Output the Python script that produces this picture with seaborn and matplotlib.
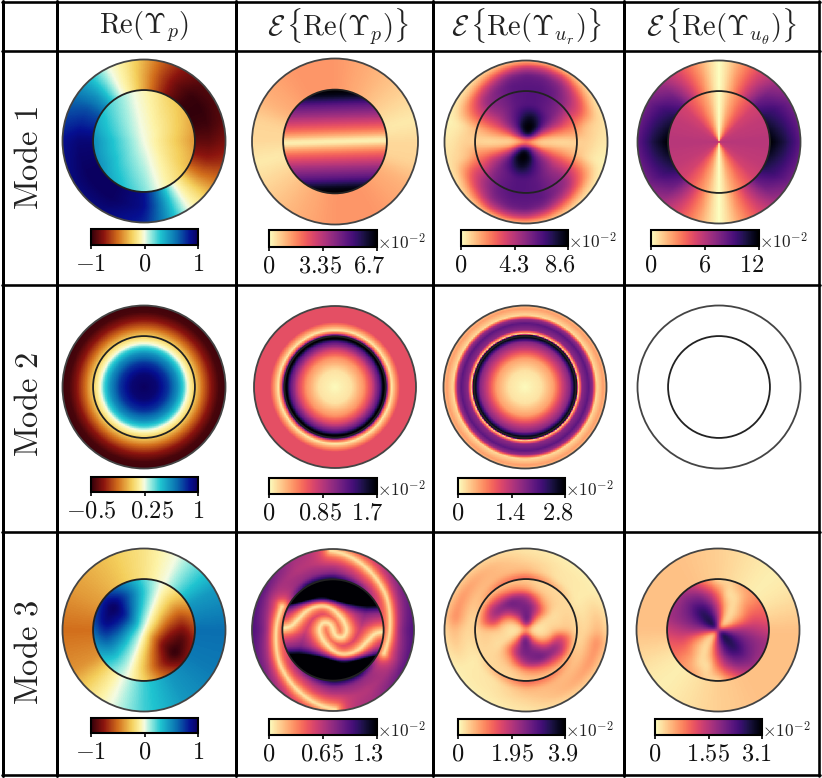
import numpy as np
import matplotlib
matplotlib.use("Agg")
import matplotlib.pyplot as plt
from matplotlib.colors import LinearSegmentedColormap
from matplotlib.lines import Line2D
from matplotlib.patches import Circle
from matplotlib.transforms import ScaledTranslation
import seaborn as sns

sns.set_theme(style="white", rc={"mathtext.fontset": "cm", "axes.grid": False})

W, H = 822, 778
RI = 0.625
N = 260
EXT = 1.03

# ---------- text ----------
headers = [r"$\mathrm{Re}(\Upsilon_p)$",
           r"$\mathcal{E}\,\{\mathrm{Re}(\Upsilon_p)\}$",
           r"$\mathcal{E}\,\{\mathrm{Re}(\Upsilon_{u_r})\}$",
           r"$\mathcal{E}\,\{\mathrm{Re}(\Upsilon_{u_\theta})\}$"]
modes = ["Mode 1", "Mode 2", "Mode 3"]

# ---------- panel A: Mode 1, Re(p) ----------
a_in_r = [0.0, 0.625]
a_in_weight = [0.0, 1.0]
a_in_ang = [0, 30, 60, 90, 102, 120, 150, 180, 210, 240, 270, 287, 300, 330]
a_in_val = [-0.40, -0.32, -0.22, -0.06, 0.0, 0.14, 0.34, 0.50, 0.48, 0.34, 0.16, 0.0, -0.10, -0.30]
a_out_r = [0.625, 0.8, 1.0]
a_out_weight = [1.0, 1.0, 0.92]
a_out_ang = [0, 15, 30, 45, 60, 75, 90, 105, 116, 135, 150, 180, 210, 240, 270, 285, 303, 315, 330, 345]
a_out_val = [-0.88, -0.97, -1.0, -0.98, -0.85, -0.62, -0.35, -0.12, 0.0, 0.45, 0.68, 0.94, 1.0,
             1.0, 0.88, 0.55, 0.0, -0.18, -0.5, -0.75]

# ---------- panel B: Mode 1, E(p) ----------
b_in_y = [0.0, 0.03, 0.07, 0.14, 0.22, 0.32, 0.44, 0.56, 0.62]
b_in_val = [0.02, 0.06, 0.16, 0.30, 0.42, 0.56, 0.72, 0.96, 1.0]
b_out_ang = [0, 15, 30, 60, 90, 120, 150, 165]
b_out_val = [0.08, 0.04, 0.08, 0.16, 0.22, 0.22, 0.16, 0.09]

# ---------- panel C: Mode 1, E(u_r) ----------
c_r = [0.0, 0.1, 0.2, 0.3, 0.45, 0.62, 0.72, 0.82, 0.92, 1.0]
c_ang = [0, 15, 30, 45, 60, 75, 90, 105, 120, 135, 150, 165]
c_tab = [[0.05, 0.05, 0.05, 0.05, 0.05, 0.08, 0.10, 0.08, 0.05, 0.05],
         [0.08, 0.20, 0.20, 0.22, 0.25, 0.25, 0.15, 0.10, 0.08, 0.05],
         [0.10, 0.50, 0.45, 0.50, 0.50, 0.40, 0.40, 0.30, 0.12, 0.05],
         [0.12, 0.72, 0.78, 0.72, 0.65, 0.60, 0.55, 0.45, 0.24, 0.07],
         [0.15, 0.90, 1.00, 0.85, 0.70, 0.70, 0.68, 0.60, 0.40, 0.10],
         [0.15, 1.00, 1.00, 0.95, 0.74, 0.74, 0.72, 0.68, 0.45, 0.12],
         [0.15, 1.00, 1.00, 0.92, 0.74, 0.74, 0.72, 0.70, 0.45, 0.12],
         [0.15, 0.90, 0.95, 0.80, 0.72, 0.72, 0.72, 0.64, 0.36, 0.10],
         [0.10, 0.70, 0.72, 0.70, 0.65, 0.65, 0.65, 0.50, 0.25, 0.07],
         [0.10, 0.60, 0.60, 0.60, 0.55, 0.60, 0.55, 0.40, 0.15, 0.05],
         [0.08, 0.40, 0.40, 0.40, 0.40, 0.40, 0.35, 0.25, 0.10, 0.04],
         [0.05, 0.15, 0.15, 0.20, 0.20, 0.15, 0.10, 0.05, 0.03, 0.02]]

# ---------- panel D: Mode 1, E(u_theta), angle folded into 0..90 ----------
d_ang = [0, 30, 45, 60, 75, 84, 90]
d_in_val = [0.50, 0.47, 0.43, 0.32, 0.18, 0.07, 0.0]
d_out_r = [0.625, 0.8, 1.0]
d_out_tab = [[1.00, 0.86, 0.72, 0.48, 0.22, 0.07, 0.0],
             [0.88, 0.78, 0.66, 0.44, 0.22, 0.07, 0.0],
             [0.72, 0.66, 0.56, 0.40, 0.20, 0.07, 0.0]]

# ---------- panels E, F, G: Mode 2, radial profiles ----------
e_r = [0.0, 0.15, 0.29, 0.41, 0.49, 0.53, 0.61, 0.72, 0.82, 0.92, 1.0]
e_val = [1.0, 0.96, 0.82, 0.62, 0.42, 0.25, 0.10, -0.125, -0.32, -0.455, -0.47]
f_r = [0.0, 0.2, 0.35, 0.45, 0.55, 0.60, 0.625, 0.63, 0.66, 0.70, 0.75, 0.80, 1.0]
f_val = [0.01, 0.06, 0.22, 0.42, 0.72, 1.00, 1.00, 0.85, 0.35, 0.05, 0.22, 0.38, 0.38]
g_r = [0.0, 0.2, 0.35, 0.45, 0.55, 0.61, 0.635, 0.655, 0.70, 0.78, 0.83, 0.88, 0.96, 1.0]
g_val = [0.01, 0.06, 0.20, 0.42, 0.62, 0.95, 0.95, 0.10, 0.60, 0.72, 0.58, 0.08, 0.20, 0.14]

# ---------- panel I: Mode 3, Re(p) ----------
i_in_r = [0.0, 0.15, 0.3, 0.47, 0.625]
i_in_weight = [0.0, 0.48, 0.86, 1.05, 0.80]
i_in_ang = [70, 90, 110, 142, 170, 200, 230, 250]
i_in_val = [0.0, 0.27, 0.58, 1.0, 0.88, 0.58, 0.22, 0.0]
i_out_ang = [0, 30, 60, 66, 90, 120, 150, 180, 210, 230, 246, 270, 300, 330]
i_out_val = [0.60, 0.45, 0.08, 0.0, -0.15, -0.28, -0.38, -0.50, -0.40, -0.16, 0.0, 0.25, 0.46, 0.56]

# ---------- panel J: Mode 3, E(p) ----------
j_ridge_out_x = [-0.03, 0.15, 0.36, 0.54, 0.67, 0.71, 0.70, 0.63]
j_ridge_out_y = [0.98, 0.94, 0.82, 0.64, 0.41, 0.16, -0.08, -0.29]
j_ridge_in_x = [0.63, 0.52, 0.44, 0.32, 0.15, 0.01, -0.12, -0.18, -0.13, -0.03, 0.0]
j_ridge_in_y = [-0.02, -0.04, -0.12, -0.25, -0.31, -0.27, -0.14, 0.0, 0.10, 0.08, 0.0]
j_in_y = [0.0, 0.2, 0.3, 0.37, 0.625]
j_in_val = [0.62, 0.72, 1.05, 1.8, 1.8]
j_out_r = [0.625, 0.7, 0.85, 1.0]
j_out_ang = [0, 30, 60, 90, 120, 150]
j_out_tab = [[0.55, 0.66, 0.76, 0.78],
             [0.50, 0.60, 0.66, 0.72],
             [0.78, 0.55, 0.50, 0.55],
             [0.95, 0.66, 0.50, 0.50],
             [0.95, 0.60, 0.50, 0.55],
             [0.60, 0.55, 0.60, 0.75]]

# ---------- panel K: Mode 3, E(u_r) ----------
k_in_r = [0.0, 0.1, 0.2, 0.3, 0.4, 0.5, 0.625]
k_in_ang = [0, 30, 60, 75, 90, 120, 150, 170]
k_in_tab = [[0.05, 0.05, 0.05, 0.10, 0.10, 0.12, 0.08],
            [0.05, 0.06, 0.06, 0.06, 0.06, 0.08, 0.08],
            [0.20, 0.40, 0.45, 0.45, 0.20, 0.10, 0.08],
            [0.40, 0.85, 0.62, 0.62, 0.38, 0.12, 0.08],
            [0.40, 0.90, 0.72, 0.66, 0.58, 0.20, 0.10],
            [0.20, 0.30, 0.50, 0.65, 0.72, 0.32, 0.10],
            [0.05, 0.10, 0.10, 0.30, 0.62, 0.50, 0.10],
            [0.05, 0.05, 0.05, 0.10, 0.40, 0.35, 0.08]]
k_out_r = [0.625, 0.72, 0.88, 1.0]
k_out_ang = [0, 30, 60, 90, 120, 150, 170]
k_out_tab = [[0.10, 0.08, 0.15, 0.08],
             [0.06, 0.04, 0.04, 0.03],
             [0.20, 0.06, 0.05, 0.03],
             [0.35, 0.15, 0.08, 0.05],
             [0.30, 0.15, 0.15, 0.08],
             [0.15, 0.12, 0.22, 0.10],
             [0.08, 0.10, 0.25, 0.12]]

# ---------- panel L: Mode 3, E(u_theta) ----------
l_in_r = [0.05, 0.15, 0.3, 0.45, 0.625]
l_in_ang = [0, 15, 30, 45, 60, 75, 90, 105, 120, 135, 150, 165]
l_in_tab = [[0.60, 0.55, 0.55, 0.50, 0.45],
            [0.30, 0.30, 0.35, 0.40, 0.35],
            [0.15, 0.15, 0.20, 0.30, 0.30],
            [0.05, 0.05, 0.10, 0.20, 0.22],
            [0.05, 0.10, 0.05, 0.07, 0.20],
            [0.30, 0.30, 0.20, 0.05, 0.10],
            [0.60, 0.55, 0.45, 0.30, 0.06],
            [0.80, 0.75, 0.65, 0.50, 0.25],
            [0.90, 0.85, 0.80, 0.65, 0.45],
            [0.95, 0.90, 0.85, 0.70, 0.55],
            [0.90, 0.85, 0.75, 0.65, 0.55],
            [0.80, 0.70, 0.65, 0.60, 0.55]]
l_out_ang = [0, 30, 45, 60, 90, 120, 150]
l_out_val = [0.13, 0.05, 0.03, 0.05, 0.10, 0.13, 0.13]

# ---------- colour bars ----------
ticks_A = [-1, 0, 1];       labels_A = ["$-1$", "$0$", "$1$"]
ticks_B = [0, 3.35, 6.7];   labels_B = ["$0$", "$3.35$", "$6.7$"]
ticks_C = [0, 4.3, 8.6];    labels_C = ["$0$", "$4.3$", "$8.6$"]
ticks_D = [0, 6, 12];       labels_D = ["$0$", "$6$", "$12$"]
ticks_E = [-0.5, 0.25, 1];  labels_E = ["$-0.5$", "$0.25$", "$1$"]
ticks_F = [0, 0.85, 1.7];   labels_F = ["$0$", "$0.85$", "$1.7$"]
ticks_G = [0, 1.4, 2.8];    labels_G = ["$0$", "$1.4$", "$2.8$"]
ticks_I = [-1, 0, 1];       labels_I = ["$-1$", "$0$", "$1$"]
ticks_J = [0, 0.65, 1.3];   labels_J = ["$0$", "$0.65$", "$1.3$"]
ticks_K = [0, 1.95, 3.9];   labels_K = ["$0$", "$1.95$", "$3.9$"]
ticks_L = [0, 1.55, 3.1];   labels_L = ["$0$", "$1.55$", "$3.1$"]

diverging = LinearSegmentedColormap.from_list("pressure", [
    (0.00, "#32000a"), (0.12, "#8c140e"), (0.25, "#d26e1c"), (0.38, "#f4cf5c"),
    (0.46, "#fdf3a8"), (0.50, "#f4fbe2"), (0.55, "#a5eee0"), (0.65, "#1fc4d0"),
    (0.80, "#0a6fb0"), (0.93, "#050f90"), (1.00, "#0a0060")])
magma = sns.color_palette("magma_r", as_cmap=True)

# ---------- sampling grid ----------
xs = (np.arange(N) + 0.5) / N * 2 * EXT - EXT
X, Y = np.meshgrid(xs, -xs)
RR = np.hypot(X, Y)
TH = np.degrees(np.arctan2(Y, X)) % 360
INNER = RR < RI
OUTSIDE = RR > 1.0


def table(radii, angles, tab_by_angle, period):
    radii = np.asarray(radii, float)
    angles = np.asarray(angles, float)
    tab = np.asarray(tab_by_angle, float)
    a2 = np.r_[angles, angles[0] + period]
    t2 = np.vstack([tab, tab[0]])
    th = (TH - angles[0]) % period + angles[0]
    ia = np.interp(th, a2, np.arange(len(a2)))
    ir = np.interp(RR, radii, np.arange(len(radii)))
    a0 = np.floor(ia).astype(int).clip(0, len(a2) - 2)
    r0 = np.floor(ir).astype(int).clip(0, max(len(radii) - 2, 0))
    r1 = np.minimum(r0 + 1, len(radii) - 1)
    fa, fr = ia - a0, ir - r0
    return ((1 - fa) * (1 - fr) * t2[a0, r0] + (1 - fa) * fr * t2[a0, r1]
            + fa * (1 - fr) * t2[a0 + 1, r0] + fa * fr * t2[a0 + 1, r1])


def ang_table(angles, vals, period):
    return table([0.0], angles, np.asarray(vals)[:, None], period)


def soften(field, sigma):
    """Take the corners out of the coarse tables, as the reference has no table steps."""
    half = int(3 * sigma)
    k = np.exp(-0.5 * (np.arange(-half, half + 1) / sigma) ** 2)
    k /= k.sum()
    pad = np.pad(field, half, mode="edge")
    pad = np.apply_along_axis(lambda v: np.convolve(v, k, mode="same"), 0, pad)
    pad = np.apply_along_axis(lambda v: np.convolve(v, k, mode="same"), 1, pad)
    return pad[half:-half, half:-half]


def dist_polyline(px, py):
    px, py = np.asarray(px, float), np.asarray(py, float)
    for _ in range(3):  # round the corners of the read polyline
        qx = np.c_[0.75 * px[:-1] + 0.25 * px[1:], 0.25 * px[:-1] + 0.75 * px[1:]].ravel()
        qy = np.c_[0.75 * py[:-1] + 0.25 * py[1:], 0.25 * py[:-1] + 0.75 * py[1:]].ravel()
        px, py = np.r_[px[0], qx, px[-1]], np.r_[py[0], qy, py[-1]]
    best = np.full(X.shape, 9.0)
    for s in (1, -1):
        qx, qy = s * px, s * py
        for k in range(len(qx) - 1):
            dx, dy = qx[k + 1] - qx[k], qy[k + 1] - qy[k]
            u = np.clip(((X - qx[k]) * dx + (Y - qy[k]) * dy) / (dx * dx + dy * dy + 1e-12), 0, 1)
            best = np.minimum(best, np.hypot(X - qx[k] - u * dx, Y - qy[k] - u * dy))
    return best


def compose(inner, outer):
    return np.where(INNER, inner, outer)


# ---------- build fields ----------
field_A = compose(soften(ang_table(a_in_ang, a_in_val, 360) * np.interp(RR, a_in_r, a_in_weight), 3),
                  soften(ang_table(a_out_ang, a_out_val, 360), 5) * np.interp(RR, a_out_r, a_out_weight))
field_B = 6.7 * compose(soften(np.interp(np.abs(Y - 0.03 * X), b_in_y, b_in_val), 1.5),
                        soften(ang_table(b_out_ang, b_out_val, 180), 5))
field_C = 8.6 * soften(table(c_r, c_ang, c_tab, 180), 4)
fold = np.abs(((TH + 90) % 180) - 90)
d_out_t = np.asarray(d_out_tab)
d_out = np.zeros_like(RR)
for k in range(len(d_out_r) - 1):
    sel = (RR >= d_out_r[k]) & (RR <= d_out_r[k + 1])
    f = (RR - d_out_r[k]) / (d_out_r[k + 1] - d_out_r[k])
    d_out = np.where(sel, (1 - f) * np.interp(fold, d_ang, d_out_t[k]) + f * np.interp(fold, d_ang, d_out_t[k + 1]), d_out)
field_D = 12 * compose(np.interp(fold, d_ang, d_in_val), d_out)
field_E = np.interp(RR, e_r, e_val)
field_F = 1.7 * np.interp(RR, f_r, f_val)
field_G = 2.8 * np.interp(RR, g_r, g_val)
field_I = compose(soften(ang_table(i_in_ang, i_in_val, 180) * np.interp(RR, i_in_r, i_in_weight)
                         * np.where(((TH - 70) % 360) < 180, 1, -1), 5),
                  soften(ang_table(i_out_ang, i_out_val, 360), 3))
soft_in = np.sqrt(dist_polyline(j_ridge_in_x, j_ridge_in_y) ** 2 + 0.012 ** 2)
soft_out = np.sqrt(dist_polyline(j_ridge_out_x, j_ridge_out_y) ** 2 + 0.012 ** 2)
j_in = soften(np.interp(np.abs(Y), j_in_y, j_in_val), 2) * (1 - np.exp(-soft_in / 0.14))
j_out = soften(table(j_out_r, j_out_ang, j_out_tab, 180), 3) * (1 - np.exp(-soft_out / 0.09))
field_J = 1.3 * compose(j_in, j_out)
field_K = 3.9 * compose(soften(table(k_in_r, k_in_ang, k_in_tab, 180), 5),
                        soften(table(k_out_r, k_out_ang, k_out_tab, 180), 4))
field_L = 3.1 * compose(soften(table(l_in_r, l_in_ang, l_in_tab, 180), 4),
                        soften(ang_table(l_out_ang, l_out_val, 180), 6))

# ---------- figure ----------
fig = plt.figure(figsize=(W / 100, H / 100), dpi=100, facecolor="white")


def rect(x0, y0, x1, y1):
    return [x0 / W, 1 - y1 / H, (x1 - x0) / W, (y1 - y0) / H]


def draw_disc(cx, cy, R, field=None, cmap=None, vmin=0, vmax=1, ticks=None, labels=None,
              bar=None, offset=True, ring="#444444", shift=(0, 0, 0)):
    ax = fig.add_axes(rect(cx - R * EXT, cy - R * EXT, cx + R * EXT, cy + R * EXT))
    c = N / 2
    scale = N / (2 * EXT)
    if field is None:
        ax.set_xlim(0, N); ax.set_ylim(N, 0)
        ax.set_aspect("equal")
    else:
        cax = fig.add_axes(rect(*bar))
        sns.heatmap(field, mask=OUTSIDE, cmap=cmap, vmin=vmin, vmax=vmax, ax=ax, cbar_ax=cax,
                    cbar_kws={"orientation": "horizontal", "ticks": ticks},
                    xticklabels=False, yticklabels=False, square=False, rasterized=True)
        cbar = ax.collections[0].colorbar
        cbar.outline.set_linewidth(1.5)
        cbar.outline.set_edgecolor("black")
        cax.set_xticks(ticks, labels)
        cax.tick_params(axis="x", direction="inout", length=6, width=1.2, color="black",
                        labelsize=17.5, pad=2, bottom=True, labelcolor="#111111")
        for lab, dx in zip(cax.get_xticklabels(), shift):
            lab.set_transform(lab.get_transform() + ScaledTranslation(dx / 100, 0, fig.dpi_scale_trans))
        if offset:
            fig.text(bar[2] / W, 1 - (bar[3] + 2) / H, r"$\times 10^{-2}$", fontsize=12.5,
                     ha="left", va="baseline", color="#222222")
    ax.add_patch(Circle((c, c), scale, fill=False, ec=ring, lw=1.3, clip_on=False))
    ax.add_patch(Circle((c, c), scale * RI, fill=False, ec="#222222", lw=1.3, clip_on=False))
    ax.axis("off")


draw_disc(144, 141, 81.5, field_A, diverging, -1, 1, ticks_A, labels_A, (91, 229, 198, 245), offset=False)
draw_disc(335, 141.5, 83, field_B, magma, 0, 6.7, ticks_B, labels_B, (269, 230, 377, 247), shift=(0, -3, -8))
draw_disc(526, 142, 81.5, field_C, magma, 0, 8.6, ticks_C, labels_C, (461, 230, 568, 246), shift=(0, 0, -8))
draw_disc(719, 142, 81.5, field_D, magma, 0, 12, ticks_D, labels_D, (651, 230, 759, 246), shift=(0, 0, -7))

draw_disc(144, 387, 81.5, field_E, diverging, -0.5, 1, ticks_E, labels_E, (91, 477, 198, 492), offset=False, shift=(0, 7, 0))
draw_disc(335, 387, 81, field_F, magma, 0, 1.7, ticks_F, labels_F, (269, 478, 377, 494), shift=(0, -3, -10))
draw_disc(525, 387, 81.5, field_G, magma, 0, 2.8, ticks_G, labels_G, (458, 478, 565, 494), shift=(0, -1, -7))
draw_disc(719, 387, 81.5)

draw_disc(144, 630, 81.5, field_I, diverging, -1, 1, ticks_I, labels_I, (91, 718, 198, 733), offset=False)
draw_disc(333, 630, 81, field_J, magma, 0, 1.3, ticks_J, labels_J, (269, 719, 377, 735), shift=(0, -1, -9))
draw_disc(526, 630, 81.5, field_K, magma, 0, 3.9, ticks_K, labels_K, (458, 719, 565, 735), shift=(0, 0, -2))
draw_disc(718, 630, 81.5, field_L, magma, 0, 3.1, ticks_L, labels_L, (655, 719, 762, 735), shift=(0, -1, -5))

# ---------- table rules ----------
for xv, lw in [(2.5, 3.0), (57, 3.0), (236, 3.0), (432.5, 3.0), (623.5, 3.0), (819, 2.6)]:
    fig.add_artist(Line2D([xv / W] * 2, [1 - 1 / H, 1 - 776 / H], color="black", lw=lw * 0.72))
for yv, lw in [(2, 2.6), (51, 2.6), (285, 2.6), (532, 2.6), (775, 2.6)]:
    fig.add_artist(Line2D([2 / W, 820 / W], [1 - yv / H] * 2, color="black", lw=lw * 0.72))

# ---------- headers ----------
for xc, txt in zip([144, 338, 527, 722], headers):
    fig.text(xc / W, 1 - 27 / H, txt, fontsize=20.5, ha="center", va="center", color="#222222")
for yc, txt in zip([158, 404, 652], modes):
    fig.text(28 / W, 1 - yc / H, "$\\mathrm{" + txt.replace(" ", "\\ ") + "}$", fontsize=23.5,
             rotation=90, ha="center", va="center", color="#222222")

fig.savefig("out.png", dpi=100)
